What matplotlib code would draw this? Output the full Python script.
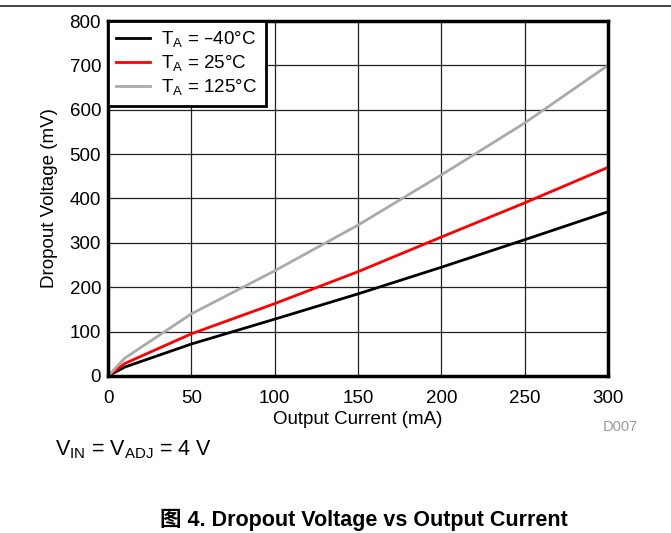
import matplotlib.pyplot as plt
import numpy as np

plt.rcParams['font.family'] = ['Liberation Sans', 'Noto Sans CJK SC', 'DejaVu Sans']

# Daten
current = [0, 10, 50, 100, 150, 200, 250, 300]
v_m40 = [0, 20, 72, 128, 185, 245, 307, 370]
v_25 = [0, 28, 95, 163, 235, 313, 390, 470]
v_125 = [0, 40, 140, 237, 340, 453, 570, 700]

labels = ['T$_\\mathregular{A}$ = \u201340\u00b0C',
          'T$_\\mathregular{A}$ = 25\u00b0C',
          'T$_\\mathregular{A}$ = 125\u00b0C']
colors = ['black', '#ff0000', '#aaaaaa']

fig = plt.figure(figsize=(6.71, 5.33), dpi=100)
ax = fig.add_axes([0.161, 0.2946, 0.745, 0.666])

for y, lab, c in zip([v_m40, v_25, v_125], labels, colors):
    ax.plot(current, y, color=c, linewidth=2, label=lab, zorder=3)

ax.set_xlim(0, 300)
ax.set_ylim(0, 800)
ax.set_xticks(np.arange(0, 301, 50))
ax.set_yticks(np.arange(0, 801, 100))
ax.grid(True, color='#222222', linewidth=0.9)
ax.tick_params(axis='both', length=0, labelsize=13.5)
ax.tick_params(axis='x', pad=10)
ax.tick_params(axis='y', pad=5)
for s in ax.spines.values():
    s.set_linewidth(2.5)
    s.set_zorder(4)

ax.set_xlabel('Output Current (mA)', fontsize=13.5, labelpad=3)
ax.set_ylabel('Dropout Voltage (mV)', fontsize=13.5, labelpad=8)

leg = ax.legend(loc='upper left', fontsize=13.5, borderaxespad=0, fancybox=False,
                framealpha=1, handlelength=1.8, handletextpad=0.6,
                labelspacing=0.2, borderpad=0.45)
leg.get_frame().set_edgecolor('black')
leg.get_frame().set_linewidth(2)
leg.set_zorder(5)

# Linie oben
fig.add_artist(plt.Line2D([0, 1], [1 - 6 / 533, 1 - 6 / 533], color='#222222', linewidth=1.2))

fig.text(620 / 671, 1 - 427 / 533, 'D007', fontsize=10.5, color='#999999', ha='center', va='center')
fig.text(55 / 671, 1 - 450 / 533, 'V$_\\mathregular{IN}$ = V$_\\mathregular{ADJ}$ = 4 V',
         fontsize=15.5, ha='left', va='center')
fig.text(364 / 671, 2 / 533, '图 4. Dropout Voltage vs Output Current',
         fontsize=15.5, fontweight='bold', ha='center', va='bottom')

fig.savefig('out.png', dpi=100)
